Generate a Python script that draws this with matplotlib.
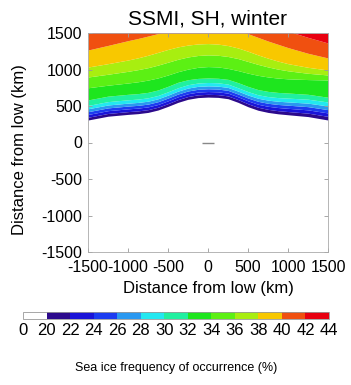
import numpy as np
import matplotlib
matplotlib.use("Agg")
import matplotlib.pyplot as plt
from matplotlib.colors import ListedColormap, BoundaryNorm
from matplotlib.colorbar import ColorbarBase

plt.rcParams['font.family'] = ['Liberation Sans', 'DejaVu Sans']
plt.rcParams['axes.unicode_minus'] = False

x_km = [-1500, -1250, -1000, -875, -750, -625, -500, -375, -250, -125, 0,
        125, 250, 375, 500, 625, 750, 875, 1000, 1250, 1500]

# height (km) of each contour level along x_km
h20 = [308, 360, 385, 395, 412, 445, 495, 550, 592, 615, 622, 618, 600, 550, 490, 442, 412, 393, 380, 355, 308]
h22 = [346, 398, 423, 433, 450, 483, 533, 588, 630, 653, 660, 656, 638, 588, 530, 483, 454, 436, 424, 402, 358]
h24 = [384, 436, 461, 471, 488, 521, 571, 626, 668, 691, 698, 694, 676, 626, 570, 524, 496, 479, 468, 447, 405]
h26 = [422, 474, 499, 509, 526, 559, 609, 664, 706, 729, 736, 732, 714, 664, 609, 564, 537, 521, 511, 491, 450]
h28 = [462, 514, 539, 549, 566, 599, 649, 704, 746, 769, 776, 772, 754, 704, 650, 606, 580, 565, 556, 539, 500]
h30 = [508, 560, 585, 595, 612, 645, 695, 750, 792, 815, 822, 818, 800, 750, 697, 654, 629, 615, 608, 593, 555]
h32 = [583, 635, 660, 670, 687, 720, 770, 825, 860, 878, 884, 880, 865, 820, 768, 725, 700, 686, 678, 660, 620]
h34 = [750, 785, 815, 832, 855, 885, 925, 970, 1005, 1030, 1040, 1035, 1015, 985, 950, 920, 898, 882, 872, 862, 856]
h36 = [897, 935, 975, 998, 1025, 1060, 1100, 1140, 1172, 1192, 1200, 1195, 1178, 1150, 1110, 1070, 1035, 1005, 982, 948, 925]
h38 = [1034, 1080, 1130, 1160, 1195, 1235, 1275, 1310, 1335, 1350, 1355, 1348, 1328, 1295, 1250, 1200, 1155, 1115, 1080, 1030, 993]
h40 = [1267, 1330, 1395, 1425, 1458, 1492, 1525, 1555, 1575, 1588, 1592, 1585, 1565, 1530, 1490, 1440, 1390, 1345, 1300, 1222, 1158]
h42 = [1650, 1700, 1750, 1770, 1790, 1810, 1830, 1845, 1855, 1860, 1860, 1855, 1840, 1800, 1745, 1690, 1635, 1580, 1525, 1440, 1363]
h_top = [1500] * len(x_km)

contours = [h20, h22, h24, h26, h28, h30, h32, h34, h36, h38, h40, h42, h_top]

# colour scale
bounds = [0, 20, 22, 24, 26, 28, 30, 32, 34, 36, 38, 40, 42, 44]
band_colors = ['#ffffff', '#2c0a8c', '#1a14d8', '#1c3cf0', '#2a98f0', '#22e8f0',
               '#20f0a0', '#1ee61e', '#5cf014', '#a8ee10', '#f8c800', '#f05010', '#e80010']

fig = plt.figure(figsize=(3.51, 3.85), dpi=100)
ax = fig.add_axes([88 / 351, 1 - 252 / 385, 240 / 351, 219 / 385])

# fill each band between two consecutive contour levels (white 0-20 band left empty)
for i in range(len(contours) - 1):
    ax.fill_between(x_km, contours[i], contours[i + 1],
                    color=band_colors[i + 1], linewidth=0)

# small mark at the low centre
ax.plot([0], [0], marker='_', markersize=8, color='#888888', markeredgewidth=1)

ax.set_xlim(-1500, 1500)
ax.set_ylim(-1500, 1500)
ticks = [-1500, -1000, -500, 0, 500, 1000, 1500]
ax.set_xticks(ticks)
ax.set_yticks(ticks)
ax.tick_params(direction='in', length=3, width=0.6, color='#999999',
               top=True, right=True, labelsize=11.5)
ax.tick_params(axis='x', pad=6)
ax.tick_params(axis='y', pad=4)
for s in ax.spines.values():
    s.set_color('#aaaaaa')
    s.set_linewidth(0.6)

ax.set_xlabel('Distance from low (km)', fontsize=12)
ax.xaxis.set_label_coords(0.5, -0.132)
ax.set_ylabel('Distance from low (km)', fontsize=12)
ax.yaxis.set_label_coords(-0.254, 0.47)

fig.text(207 / 351, 1 - 19 / 385, 'SSMI, SH, winter', fontsize=15,
         ha='center', va='center')

# colourbar
cax = fig.add_axes([23 / 351, 1 - 319 / 385, 306 / 351, 7 / 385])
cmap = ListedColormap(band_colors)
norm = BoundaryNorm(bounds, cmap.N)
cb = ColorbarBase(cax, cmap=cmap, norm=norm, orientation='horizontal',
                  spacing='uniform', ticks=bounds)
cb.ax.tick_params(length=0, labelsize=12, pad=3)
cb.outline.set_edgecolor('#999999')
cb.outline.set_linewidth(0.6)

fig.text(176 / 351, 1 - 368 / 385, 'Sea ice frequency of occurrence (%)',
         fontsize=9, ha='center', va='center')

fig.savefig('out.png', dpi=100)
